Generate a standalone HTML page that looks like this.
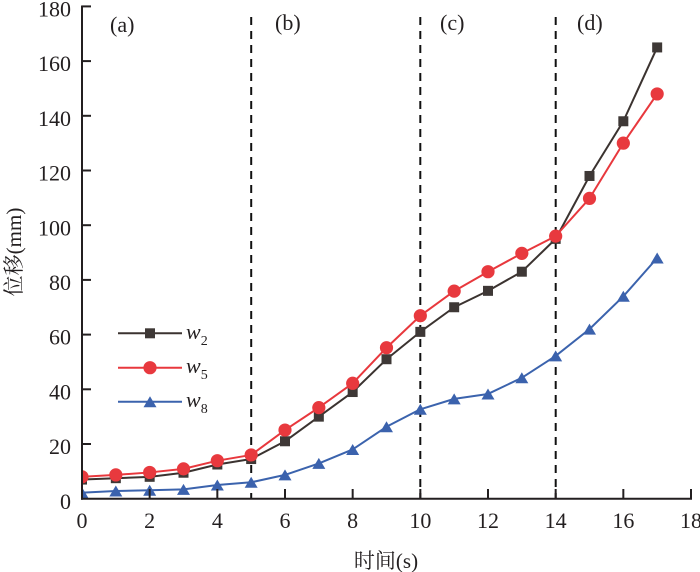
<!DOCTYPE html>
<html><head><meta charset="utf-8"><style>
html,body{margin:0;padding:0;background:#fff;}
svg{display:block;}
text{font-family:"Liberation Serif","Noto Serif CJK SC",serif;fill:#231f20;}
</style></head><body>
<svg width="700" height="572" viewBox="0 0 700 572" xmlns="http://www.w3.org/2000/svg">
<defs>
<clipPath id="pc"><rect x="83" y="0" width="617" height="498"/></clipPath>
<marker id="sq" markerUnits="userSpaceOnUse" markerWidth="12" markerHeight="12" refX="6" refY="6" overflow="visible"><rect x="1" y="1" width="10" height="10" fill="#3e3836"/></marker>
<marker id="ci" markerUnits="userSpaceOnUse" markerWidth="14" markerHeight="14" refX="7" refY="7" overflow="visible"><circle cx="7" cy="7" r="6.6" fill="#e8393e"/></marker>
<marker id="tr" markerUnits="userSpaceOnUse" markerWidth="14" markerHeight="12" refX="7" refY="6" overflow="visible"><polygon points="0.5,11.5 13.5,11.5 7,0.5" fill="#3b62ad"/></marker>
</defs>

<!-- dashed separators -->
<g stroke="#111" stroke-width="2" stroke-dasharray="8,6">
<line x1="251.2" y1="17" x2="251.2" y2="498"/>
<line x1="420.3" y1="17" x2="420.3" y2="498"/>
<line x1="555.7" y1="17" x2="555.7" y2="498"/>
</g>

<!-- series -->
<g clip-path="url(#pc)" fill="none" stroke-width="2" stroke-linejoin="round">
<polyline stroke="#3b3330" marker-start="url(#sq)" marker-mid="url(#sq)" marker-end="url(#sq)" points="82,479.56 115.83,478.19 149.67,476.82 183.5,472.72 217.33,464.51 251.17,459.04 285,441.27 318.83,416.65 352.67,392.03 386.5,359.22 420.33,331.87 454.17,307.25 488,290.84 521.83,271.70 555.67,238.88 589.5,175.97 623.33,121.27 657.17,47.43"/>
<polyline stroke="#e8383d" marker-start="url(#ci)" marker-mid="url(#ci)" marker-end="url(#ci)" points="82,476.82 115.83,474.91 149.67,472.44 183.5,468.89 217.33,460.68 251.17,454.94 285,430.05 318.83,407.62 352.67,383.28 386.5,347.73 420.33,315.73 454.17,291.11 488,271.70 521.83,253.37 555.67,236.14 589.5,198.40 623.33,143.15 657.17,93.92"/>
<polyline stroke="#3b63ad" marker-start="url(#tr)" marker-mid="url(#tr)" marker-end="url(#tr)" points="82,492.68 115.83,491.04 149.67,490.22 183.5,489.40 217.33,485.03 251.17,482.29 285,474.91 318.83,463.42 352.67,449.47 386.5,426.77 420.33,409.27 454.17,398.87 488,393.95 521.83,377.81 555.67,355.93 589.5,329.13 623.33,296.31 657.17,258.02"/>
</g>

<!-- axes -->
<g stroke="#231f20" stroke-width="2" fill="none">
<line x1="82" y1="5.5" x2="82" y2="499.7"/>
<line x1="81" y1="498.7" x2="692" y2="498.7"/>
<!-- y ticks -->
<line x1="82" y1="6.4" x2="91" y2="6.4"/>
<line x1="82" y1="61.1" x2="91" y2="61.1"/>
<line x1="82" y1="115.8" x2="91" y2="115.8"/>
<line x1="82" y1="170.5" x2="91" y2="170.5"/>
<line x1="82" y1="225.2" x2="91" y2="225.2"/>
<line x1="82" y1="279.9" x2="91" y2="279.9"/>
<line x1="82" y1="334.6" x2="91" y2="334.6"/>
<line x1="82" y1="389.3" x2="91" y2="389.3"/>
<line x1="82" y1="444.0" x2="91" y2="444.0"/>
<!-- x ticks -->
<line x1="149.67" y1="498.7" x2="149.67" y2="489"/>
<line x1="217.33" y1="498.7" x2="217.33" y2="489"/>
<line x1="285" y1="498.7" x2="285" y2="489"/>
<line x1="352.67" y1="498.7" x2="352.67" y2="489"/>
<line x1="420.33" y1="498.7" x2="420.33" y2="489"/>
<line x1="488" y1="498.7" x2="488" y2="489"/>
<line x1="555.67" y1="498.7" x2="555.67" y2="489"/>
<line x1="623.33" y1="498.7" x2="623.33" y2="489"/>
<line x1="691" y1="498.7" x2="691" y2="489"/>
</g>

<!-- y tick labels -->
<g font-size="22" text-anchor="end">
<text x="71" y="16.5">180</text>
<text x="71" y="71.2">160</text>
<text x="71" y="125.9">140</text>
<text x="71" y="180.6">120</text>
<text x="71" y="235.3">100</text>
<text x="71" y="290">80</text>
<text x="71" y="344.7">60</text>
<text x="71" y="399.4">40</text>
<text x="71" y="454.1">20</text>
<text x="71" y="508.8">0</text>
</g>

<!-- x tick labels -->
<g font-size="22" text-anchor="middle">
<text x="82" y="528">0</text>
<text x="149.67" y="528">2</text>
<text x="217.33" y="528">4</text>
<text x="285" y="528">6</text>
<text x="352.67" y="528">8</text>
<text x="420.33" y="528">10</text>
<text x="488" y="528">12</text>
<text x="555.67" y="528">14</text>
<text x="623.33" y="528">16</text>
<text x="691" y="528">18</text>
</g>

<!-- region labels -->
<g font-size="22">
<text x="110" y="32">(a)</text>
<text x="275" y="30">(b)</text>
<text x="440" y="30">(c)</text>
<text x="577" y="30">(d)</text>
</g>

<!-- axis titles -->
<text x="386" y="568" font-size="21" text-anchor="middle">时间(s)</text>
<text transform="translate(21,252) rotate(-90)" font-size="21" text-anchor="middle">位移(mm)</text>

<!-- legend -->
<g fill="none" stroke-width="2">
<line x1="118" y1="333.3" x2="182" y2="333.3" stroke="#3b3330"/>
<line x1="118" y1="367.7" x2="182" y2="367.7" stroke="#e8383d"/>
<line x1="118" y1="401.7" x2="182" y2="401.7" stroke="#3b63ad"/>
</g>
<rect x="145" y="328.3" width="10" height="10" fill="#3e3836"/>
<circle cx="150" cy="367.7" r="6.6" fill="#e8393e"/>
<polygon points="143.5,407.2 156.5,407.2 150,396.2" fill="#3b62ad"/>
<g font-size="22" font-style="italic">
<text x="186" y="339">w<tspan font-size="14" font-style="normal" dy="6">2</tspan></text>
<text x="186" y="373">w<tspan font-size="14" font-style="normal" dy="6">5</tspan></text>
<text x="186" y="407">w<tspan font-size="14" font-style="normal" dy="6">8</tspan></text>
</g>
</svg>
</body></html>
